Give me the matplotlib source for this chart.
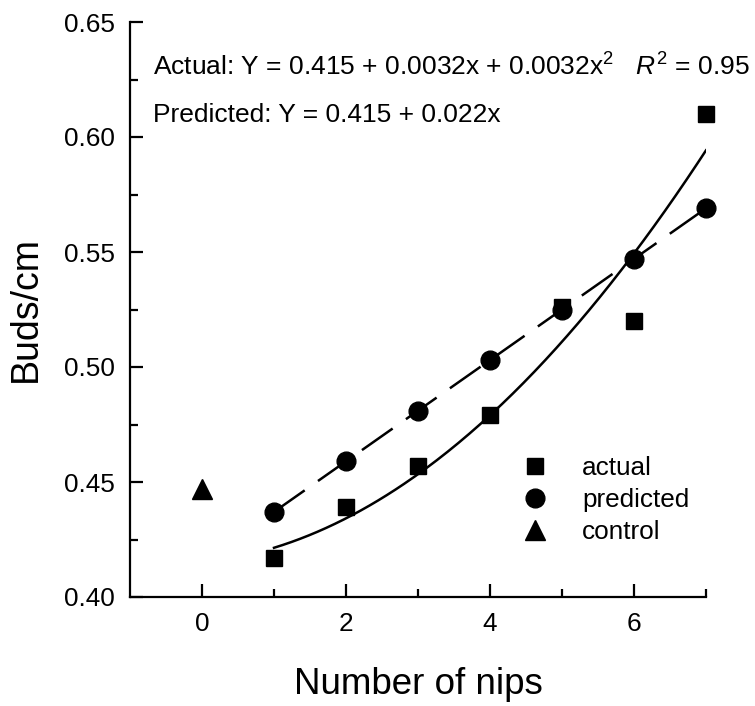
"""
Buds per cm against number of nips, actual vs predicted
"""
import numpy as np
import matplotlib
matplotlib.use('Agg')
import matplotlib.pyplot as plt

plt.rcParams['font.family'] = ['Liberation Sans', 'DejaVu Sans']
plt.rcParams['mathtext.fontset'] = 'custom'
plt.rcParams['mathtext.rm'] = 'Liberation Sans'
plt.rcParams['mathtext.it'] = 'Liberation Sans:italic'

# data
nips = [1, 2, 3, 4, 5, 6, 7]
actual = [0.417, 0.439, 0.457, 0.479, 0.526, 0.520, 0.610]
predicted = [0.437, 0.459, 0.481, 0.503, 0.525, 0.547, 0.569]
control_x = [0]
control_y = [0.447]

# fit from the printed equation: Y = c0 + c1*x + c2*x^2
actual_fit = [0.415, 0.0032, 0.0032]

xticks = [0, 2, 4, 6]
yticks = [0.40, 0.45, 0.50, 0.55, 0.60, 0.65]

fig = plt.figure(figsize=(7.55, 7.06), dpi=100)
ax = fig.add_axes([130/755, 1-597/706, 576/755, 575/706])

xfit = np.linspace(nips[0], nips[-1], 200)
yfit = np.polyval(actual_fit[::-1], xfit)
ax.plot(xfit, yfit, color='black', lw=1.8, zorder=2)
ax.plot(nips, predicted, color='black', lw=1.8, dashes=(15, 6.5), zorder=2)

ax.plot(nips, actual, 's', color='black', ms=12, label='actual', zorder=3, clip_on=False)
ax.plot(nips, predicted, 'o', color='black', ms=13.5, label='predicted', zorder=4, clip_on=False)
ax.plot(control_x, control_y, '^', color='black', ms=14, label='control', zorder=3, clip_on=False)

ax.text(0.04, 0.906, 'Actual: Y = 0.415 + 0.0032x + 0.0032x$^2$   $R^2$ = 0.95',
        transform=ax.transAxes, fontsize=19, va='baseline', clip_on=False)
ax.text(0.04, 0.8266, 'Predicted: Y = 0.415 + 0.022x',
        transform=ax.transAxes, fontsize=19, va='baseline')

ax.set_xlim(-1, 7)
ax.set_ylim(0.40, 0.65)
ax.set_xticks(xticks)
ax.set_xticks([1, 3, 5, 7], minor=True)
ax.set_yticks(yticks)
ax.set_yticks([0.425, 0.475, 0.525, 0.575, 0.625], minor=True)
ax.set_yticklabels(['%.2f' % v for v in yticks])

ax.spines['top'].set_visible(False)
ax.spines['right'].set_visible(False)
for s in ['left', 'bottom']:
    ax.spines[s].set_linewidth(1.6)

ax.tick_params(which='major', direction='in', length=9.5, width=1.6, labelsize=18.8, pad=11)
ax.tick_params(which='minor', direction='in', length=5.5, width=1.6)

ax.set_xlabel('Number of nips', fontsize=26.5, labelpad=22)
ax.set_ylabel('Buds/cm', fontsize=27, labelpad=14)

ax.legend(loc='center left', bbox_to_anchor=(0.681, 0.1687), frameon=False,
          fontsize=18.8, handlelength=1.0, handletextpad=1.3, labelspacing=0.3,
          borderpad=0, borderaxespad=0, numpoints=1)

fig.savefig('out.png', dpi=100)
